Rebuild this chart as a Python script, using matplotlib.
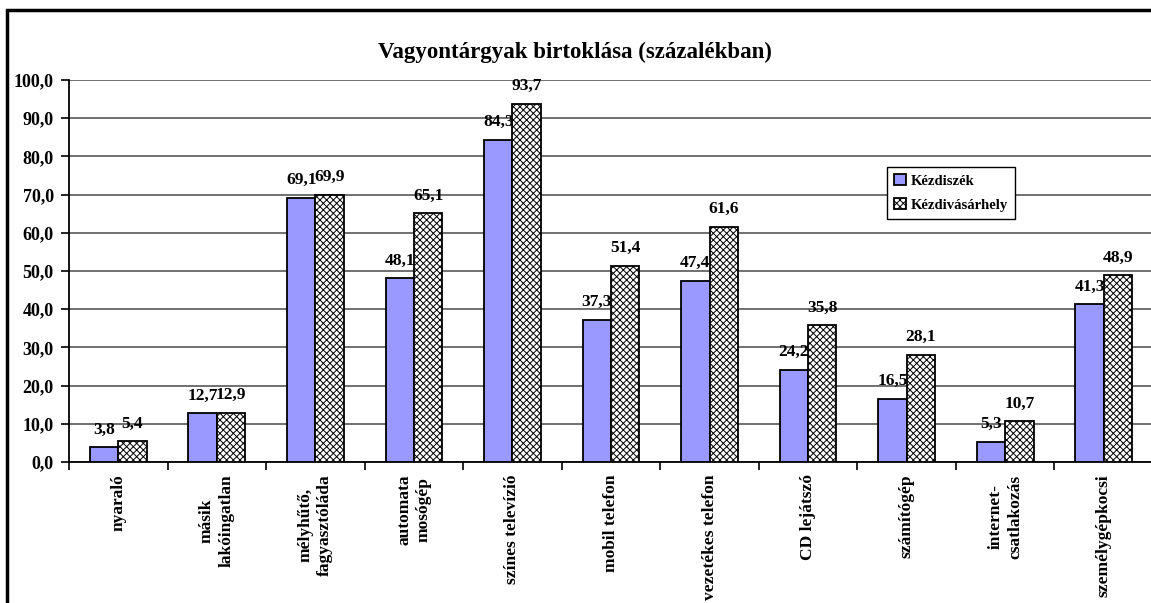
import numpy as np
import matplotlib.pyplot as plt
from matplotlib.patches import Rectangle

categories = ['nyaraló', 'másik\nlakóingatlan', 'mélyhűtő,\nfagyasztóláda', 'automata\nmosógép',
              'színes televízió', 'mobil telefon', 'vezetékes telefon', 'CD lejátszó',
              'számítógép', 'internet-\ncsatlakozás', 'személygépkocsi']
kezdiszek = [3.8, 12.7, 69.1, 48.1, 84.3, 37.3, 47.4, 24.2, 16.5, 5.3, 41.3]
kezdivasarhely = [5.4, 12.9, 69.9, 65.1, 93.7, 51.4, 61.6, 35.8, 28.1, 10.7, 48.9]
series_names = ['Kézdiszék', 'Kézdivásárhely']
yticks = np.arange(0, 101, 10)

plt.rcParams['font.family'] = ['Liberation Serif', 'DejaVu Serif']
plt.rcParams['font.weight'] = 'bold'
plt.rcParams['hatch.color'] = '#808080'
plt.rcParams['hatch.linewidth'] = 0.7

W, H = 1151, 603
fig = plt.figure(figsize=(W / 100, H / 100), dpi=100)
ax = fig.add_axes([69 / W, 1 - 462 / H, (1153 - 69) / W, (462 - 80) / H])

x = np.arange(len(categories))
bw = 0.288
b1 = ax.bar(x - bw / 2, kezdiszek, bw, color='#9999FF', edgecolor='black', linewidth=1.3,
            label=series_names[0], zorder=3)
b2 = ax.bar(x + bw / 2, kezdivasarhely, bw, color='white', edgecolor='black', linewidth=1.3,
            hatch='xxxxx', label=series_names[1], zorder=3)

for bars, vals in ((b1, kezdiszek), (b2, kezdivasarhely)):
    for r, v in zip(bars, vals):
        ax.annotate(f'{v:.1f}'.replace('.', ','), (r.get_x() + r.get_width() / 2, v),
                    xytext=(0, 7), textcoords='offset points', ha='center', va='bottom',
                    fontsize=12.5, fontweight='bold', zorder=4)

ax.set_xlim(-0.5, len(categories) - 0.5)
ax.set_ylim(0, 100)
ax.set_yticks(yticks)
ax.set_yticklabels([f'{t:.1f}'.replace('.', ',') for t in yticks], fontsize=13, fontweight='bold')
ax.yaxis.grid(True, color='#707070', linewidth=1.4, zorder=0)
ax.set_axisbelow(True)

ax.set_xticks(np.arange(-0.5, len(categories), 1))
ax.set_xticklabels([])
ax.set_xticks(x, minor=True)
ax.set_xticklabels(categories, minor=True, rotation=90, fontsize=12.5, fontweight='bold',
                   ha='center', va='top', linespacing=1.3)
ax.tick_params(axis='x', which='minor', length=0, pad=9)
ax.tick_params(axis='x', which='major', length=6, width=1.2, direction='out')
ax.tick_params(axis='y', length=6, width=1.2, direction='out', pad=5)

for s in ('top', 'right'):
    ax.spines[s].set_visible(False)
ax.spines['left'].set_linewidth(1.3)
ax.spines['bottom'].set_linewidth(1.3)

fig.text(575 / W, 1 - 52 / H, 'Vagyontárgyak birtoklása (százalékban)', ha='center', va='center',
         fontsize=16.5, fontweight='bold')

leg = fig.legend(handles=[b1, b2], labels=series_names, loc='upper left',
                 bbox_to_anchor=(887 / W, 1 - 167 / H), fancybox=False, framealpha=1,
                 edgecolor='black', prop={'size': 10.5, 'weight': 'bold'},
                 handlelength=0.8, handleheight=0.8, handletextpad=0.3,
                 borderpad=0.5, labelspacing=0.7, borderaxespad=0)
leg.get_frame().set_linewidth(1.0)

fig.patches.append(Rectangle((7 / W, -0.1), 1.2, 1 - 10 / H + 0.1, transform=fig.transFigure,
                             fill=False, edgecolor='black', linewidth=2.5, zorder=10))

fig.savefig('out.png', dpi=100)
